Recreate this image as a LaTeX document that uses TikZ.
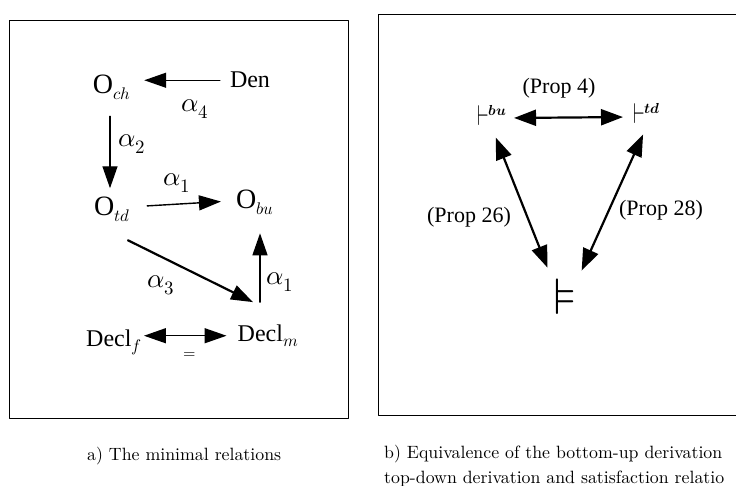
\documentclass[tikz,border=0pt]{standalone}
\usepackage{amsmath}
\usepackage{unicode-math}
\setmathfont{Latin Modern Math}
\newfontfamily\diagfont{Liberation Serif}
\newfontfamily\capfont{lmroman10-regular}[Extension=.otf]
\usetikzlibrary{arrows.meta,positioning}
\newcommand{\Obig}{{\fontsize{28}{30}\selectfont O}}
\newcommand{\thinvdash}{\scalebox{0.65}[1]{$\vdash$}}

\begin{document}
\begin{tikzpicture}[x=1pt, y=-1pt, line cap=round, line join=round,
		>={Triangle[length=22pt,width=15pt]},
		obj/.style={inner sep=2pt, anchor=base, font=\diagfont\fontsize{24}{28}\selectfont},
		lab/.style={inner sep=1pt, font=\fontsize{27}{30}\selectfont},
		prop/.style={inner sep=1pt, font=\diagfont\fontsize{22}{26}\selectfont},
		turn/.style={inner sep=2pt, anchor=base west, font=\fontsize{29}{32}\selectfont},
		rel/.style={->, line width=1.4pt},
		eqv/.style={<->, line width=2.2pt, >={Triangle[length=22pt,width=16pt]}},
		frame/.style={line width=0.9pt},
		captxt/.style={anchor=base west, inner sep=0pt, font=\capfont\fontsize{17.8}{25}\selectfont}]
	\useasboundingbox (0,0) rectangle (736,486);
	
	% 1. Frames of the two panels
	\draw[frame] (9,20) rectangle (348,418);
	\draw[frame] (736,14) -- (378,14) -- (378,415) -- (736,415);
	
	% 2. Left panel: the objects
	\node[obj] (och) at (112,94) {\Obig$_{ch}$};
	\node[obj] (den) at (250,88) {Den};
	\node[obj] (otd) at (112,216) {\Obig$_{td}$};
	\node[obj] (obu) at (255,209) {\Obig$_{bu}$};
	\node[obj] (declf) at (114,346) {Decl$_f$};
	\node[obj] (declm) at (268,341) {Decl$_m$};
	
	% 3. Left panel: the relations
	\draw[rel, shorten <=8pt, shorten >=11pt] (den.west) -- (den.west -| och.east);
	\draw[rel, shorten <=14pt, shorten >=7pt] ([xshift=-2pt]och.south) -- ([xshift=-2pt]otd.north);
	\draw[rel, shorten <=15pt, shorten >=13pt] ([yshift=3pt]otd.east) -- ([yshift=2pt]obu.west);
	\draw[rel, line width=2.2pt] ([xshift=16pt,yshift=-16pt]otd.south) -- ([xshift=-15pt,yshift=20pt]declm.north);
	\draw[rel, shorten >=16pt] ([xshift=-8pt,yshift=20pt]declm.north) -- ([xshift=5pt]obu.south);
	\draw[rel, <->, shorten >=9pt] (declf.east |- declm.west) -- (declm.west);
	
	% 4. Left panel: labels of the relations
	\node[lab] (a4) at (195,109) {$\alpha_4$};
	\node[lab] (a2) at (132,144) {$\alpha_2$};
	\node[lab] (a1t) at (177,183) {$\alpha_1$};
	\node[lab] (a3) at (161,285) {$\alpha_3$};
	\node[lab] (a1r) at (280,282) {$\alpha_1$};
	\node[lab, font=\fontsize{16}{18}\selectfont] (eq) at (190,356) {$=$};
	
	% 5. Right panel: the three relations
	\node[turn] (bu) at (475,126) {\thinvdash$^{\scriptscriptstyle\symbfit{bu}}$};
	\node[turn] (td) at (631,124) {\thinvdash$^{\scriptscriptstyle\symbfit{td}}$};
	\node[inner sep=2pt, font=\fontsize{52}{56}\selectfont] (sat) at (565,297) {$\models$};
	
	% 6. Right panel: the equivalences
	\draw[eqv, shorten <=5pt, shorten >=8pt] ([yshift=8pt]bu.base east) -- ([yshift=7pt]td.base west);
	\draw[eqv, shorten <=10pt, shorten >=10pt] (bu.south) -- (sat.north west);
	\draw[eqv, shorten <=9pt, shorten >=7pt] (td.south) -- (sat.north east);
	\node[prop] (p4) at (559,88) {(Prop 4)};
	\node[prop] (p26) at (469,217) {(Prop 26)};
	\node[prop] (p28) at (661,210) {(Prop 28)};
	
	% 7. Captions
	\node[captxt] (capa) at (87,460) {a) The minimal relations};
	\node[captxt] (capb1) at (384,458) {b) Equivalence of the bottom-up derivation};
	\node[captxt] (capb2) at (384,483) {top-down derivation and satisfaction relatio};
\end{tikzpicture}
\end{document}
